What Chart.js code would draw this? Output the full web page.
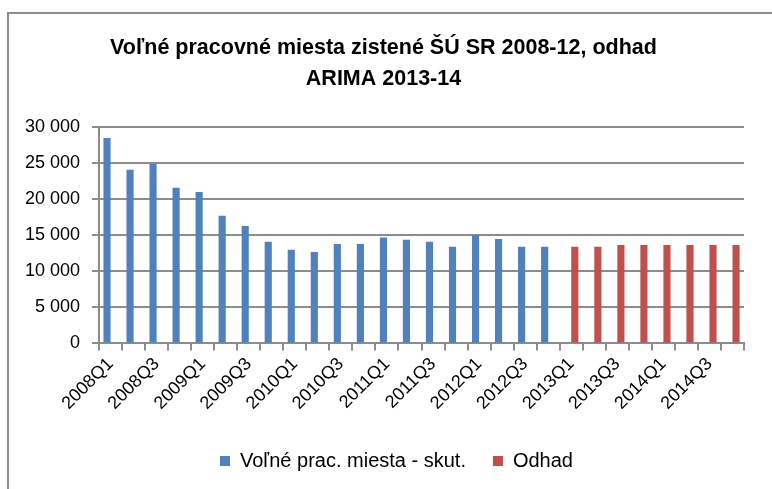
<!DOCTYPE html>
<html>
<head>
<meta charset="utf-8">
<script src="https://cdn.jsdelivr.net/npm/chart.js@4"></script>
<style>
  html, body { margin: 0; padding: 0; background: #fff; }
  #wrap { position: relative; width: 772px; height: 489px; overflow: hidden; }
  #frame { position: absolute; left: 7px; top: 12px; width: 800px; height: 500px; border: 2px solid #8c8c8c; box-sizing: border-box; }
  canvas { position: absolute; left: 0; top: 0; }
</style>
</head>
<body>
<div id="wrap">
  <div id="frame"></div>
  <canvas id="chart" width="772" height="489"></canvas>
</div>
<script>
const categories = [
  '2008Q1', '2008Q2', '2008Q3', '2008Q4',
  '2009Q1', '2009Q2', '2009Q3', '2009Q4',
  '2010Q1', '2010Q2', '2010Q3', '2010Q4',
  '2011Q1', '2011Q2', '2011Q3', '2011Q4',
  '2012Q1', '2012Q2', '2012Q3', '2012Q4',
  '2013Q1', '2013Q2', '2013Q3', '2013Q4',
  '2014Q1', '2014Q2', '2014Q3', '2014Q4'
]

const actual = [
  28500, 24100, 24900, 21600,
  21000, 17700, 16300, 14100,
  13000, 12700, 13800, 13800,
  14700, 14400, 14100, 13400,
  15000, 14500, 13400, 13400,
  null, null, null, null,
  null, null, null, null
]

const forecast = [
  null, null, null, null,
  null, null, null, null,
  null, null, null, null,
  null, null, null, null,
  null, null, null, null,
  13400, 13400, 13650, 13650,
  13650, 13650, 13650, 13650
]

const yTicks = [0, 5000, 10000, 15000, 20000, 25000, 30000]

const fontFamily = "'Liberation Sans', Arial, sans-serif"
const gridColor = '#8c8c8c'

// the original legend/title sit a little right of centre, legend lower than Chart.js puts it
const boxShift = {
  id: 'boxShift',
  afterLayout(chart) {
    const lg = chart.legend
    lg.left += 18
    lg.right += 18
    lg.top += 7
    lg.bottom += 7
    const t = chart.titleBlock
    if (t) {
      t.left += 5
      t.right += 5
    }
  }
}

const ctx = document.getElementById('chart')

new Chart(ctx, {
  type: 'bar',
  data: {
    labels: categories,
    datasets: [{
      label: 'Voľné prac. miesta - skut.',
      data: actual,
      backgroundColor: '#4F81BD'
    }, {
      label: 'Odhad',
      data: forecast,
      backgroundColor: '#C0504D'
    }]
  },
  plugins: [boxShift],
  options: {
    responsive: false,
    animation: false,
    layout: {
      padding: { left: 13, right: 28, top: 32, bottom: 15 }
    },
    datasets: {
      bar: { categoryPercentage: 0.62, barPercentage: 1 }
    },
    plugins: {
      title: {
        display: true,
        text: ['Voľné pracovné miesta zistené ŠÚ SR 2008-12, odhad', 'ARIMA 2013-14'],
        color: '#000',
        font: { family: fontFamily, size: 21.5, weight: 'bold', lineHeight: 1.47 },
        padding: { top: 0, bottom: 32 }
      },
      legend: {
        position: 'bottom',
        labels: {
          color: '#000',
          font: { family: fontFamily, size: 20 },
          boxWidth: 10,
          boxHeight: 10,
          padding: 27
        }
      },
      tooltip: { enabled: false }
    },
    scales: {
      x: {
        grid: {
          drawOnChartArea: false,
          color: gridColor,
          lineWidth: 2,
          tickLength: 7
        },
        border: { color: gridColor, width: 2 },
        ticks: {
          autoSkip: false,
          maxRotation: 45,
          minRotation: 45,
          color: '#000',
          font: { family: fontFamily, size: 18 },
          padding: 3,
          callback: function (value, index) {
            return index % 2 === 0 ? categories[index] : ''
          }
        }
      },
      y: {
        min: 0,
        max: 30000,
        afterBuildTicks: function (axis) {
          axis.ticks = yTicks.map(v => ({ value: v }))
        },
        grid: {
          color: gridColor,
          lineWidth: 2,
          tickLength: 7
        },
        border: { color: gridColor, width: 2 },
        ticks: {
          color: '#000',
          font: { family: fontFamily, size: 18 },
          padding: 12,
          callback: function (value) {
            return String(value).replace(/\B(?=(\d{3})+(?!\d))/g, ' ')
          }
        }
      }
    }
  }
})
</script>
</body>
</html>
